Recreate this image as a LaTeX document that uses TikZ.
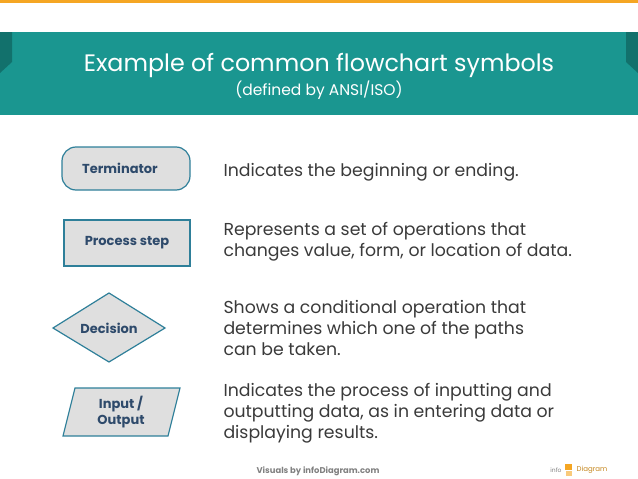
\documentclass[tikz,border=0pt]{standalone}
\usepackage{fontspec}
\setmainfont{Poppins}
\usetikzlibrary{shapes.geometric}
\definecolor{teal1}{HTML}{1A9690}
\definecolor{teal2}{HTML}{12716C}
\definecolor{edge}{HTML}{2E7F99}
\definecolor{lbl}{HTML}{2E4A6B}
\definecolor{body}{HTML}{3A3A3A}
\definecolor{orng}{HTML}{F5A623}
\tikzset{sym/.style={draw=edge,line width=1.2pt,fill=gray!25},
  lab/.style={text=lbl,font=\fontsize{13}{16}\selectfont\bfseries,align=center},
  desc/.style={anchor=west,text=body,font=\fontsize{17.3}{21}\selectfont,align=left}}
\begin{document}
\begin{tikzpicture}[x=1pt,y=-1pt]
\useasboundingbox (0,0) rectangle (638,479);
\fill[orng] (0,0) rectangle (638,3);
\fill[teal1] (0,32) rectangle (638,115);
\fill[teal2] (0,32) -- (12,32) -- (12,62) -- (0,73) -- cycle;
\fill[teal2] (638,32) -- (626,32) -- (626,62) -- (638,73) -- cycle;
\node[text=white,font=\fontsize{23.8}{28}\selectfont] (title) at (319,66) {Example of common flowchart symbols};
\node[text=white,font=\fontsize{15.5}{18}\selectfont] (sub) at (319,90) {(defined by ANSI/ISO)};
\draw[sym,rounded corners=14pt] (62,147) rectangle (190,190);
\node[lab] (t) at (120,168.5) {Terminator};
\draw[sym] (64,220) rectangle (190,266);
\node[lab] (p) at (127,243) {Process step};
\draw[sym] (53,328) -- (109,293) -- (165,328) -- (109,362) -- cycle;
\node[lab] (d) at (109,328) {Decision};
\draw[sym] (75,388) -- (180,388) -- (168,436) -- (63,436) -- cycle;
\node[lab] (io) at (121,412) {Input /\\Output};
\node[desc] (dt) at (220,172) {Indicates the beginning or ending.};
\node[desc] (dp) at (220,242) {Represents a set of operations that\\changes value, form, or location of data.};
\node[desc] (dd) at (220,328) {Shows a conditional operation that\\determines which one of the paths\\can be taken.};
\node[desc] (di) at (220,413) {Indicates the process of inputting and\\outputting data, as in entering data or\\displaying results.};
\node[text=gray,font=\fontsize{8.4}{10}\selectfont\bfseries] (ft) at (318,471) {Visuals by infoDiagram.com};
\node[text=gray,font=\fontsize{6}{7}\selectfont] (l1) at (556,470) {info};
\fill[orng] (565,464) rectangle (572,470);
\fill[orng!60] (566,471) rectangle (572,476);
\node[text=orng!80!black,font=\fontsize{7}{8}\selectfont] (l2) at (592,470) {Diagram};
\end{tikzpicture}
\end{document}
